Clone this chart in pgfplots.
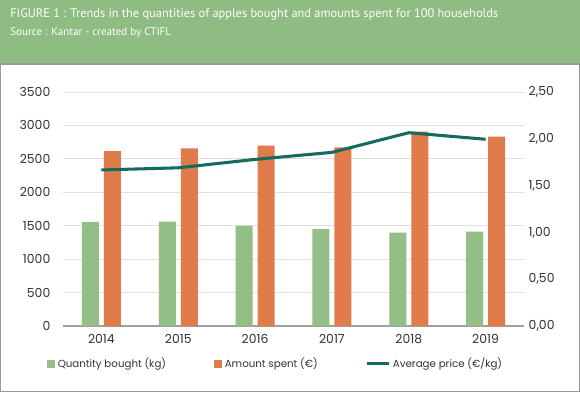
\documentclass[border=0pt]{standalone}
\usepackage{pgfplots}
\pgfplotsset{compat=1.18}
\usepackage{fontspec}
\setmainfont{Poppins}
\newfontfamily\titlefont{PT Sans}
\definecolor{hdrgreen}{HTML}{8FBC82}
\definecolor{bargreen}{HTML}{93BF86}
\definecolor{barorange}{HTML}{E07C4C}
\definecolor{lineteal}{HTML}{156B5E}
\definecolor{txtgray}{HTML}{333333}
\begin{document}
\begin{tikzpicture}
\useasboundingbox (0,0) rectangle (435pt,294pt);
\fill[hdrgreen] (0,246pt) rectangle (435pt,294pt);
\filldraw[fill=white, draw=gray!80, line width=1pt] (0.5pt,0.5pt) rectangle (434.5pt,246pt);
\node[anchor=west, inner sep=0pt, text=white, font=\titlefont\fontsize{9.3}{11}\selectfont] at (7.5pt,283.5pt) {FIGURE 1 : Trends in the quantities of apples bought and amounts spent for 100 households};
\node[anchor=west, inner sep=0pt, text=white, font=\titlefont\fontsize{8.3}{10}\selectfont] at (7.5pt,269.5pt) {Source : Kantar - created by CTIFL};
\begin{axis}[
  at={(47.25pt,49.5pt)}, anchor=south west,
  scale only axis, width=345.75pt, height=175.5pt,
  xmin=-0.5, xmax=5.5, ymin=0, ymax=3500,
  ytick={0,500,...,3500},
  xtick={0,1,2,3,4,5},
  xticklabels={2014,2015,2016,2017,2018,2019},
  axis x line*=bottom, axis y line*=left,
  y axis line style={draw=none},
  x axis line style={draw=gray!75, line width=1pt, -},
  major tick length=0pt,
  ymajorgrids, grid style={draw=gray!25, line width=0.6pt},
  ybar=3.75pt, bar width=12.75pt,
  /pgf/number format/assume math mode=true,
  /pgf/number format/1000 sep={},
  tick label style={font=\fontsize{9.3}{11}\selectfont, text=txtgray},
  yticklabel style={anchor=east, xshift=-6pt},
  xticklabel style={yshift=-2.5pt},
  clip=false,
]
\addplot[fill=bargreen, draw=none] coordinates {(0,1556) (1,1560) (2,1496) (3,1451) (4,1396) (5,1411)};
\addplot[fill=barorange, draw=none] coordinates {(0,2617) (1,2658) (2,2697) (3,2673) (4,2906) (5,2832)};
\end{axis}
\begin{axis}[
  at={(47.25pt,49.5pt)}, anchor=south west,
  scale only axis, width=345.75pt, height=175.5pt,
  xmin=-0.5, xmax=5.5, ymin=0, ymax=2.5,
  ytick={0,0.5,...,2.5},
  axis x line=none, axis y line*=right,
  y axis line style={draw=none},
  major tick length=0pt,
  /pgf/number format/assume math mode=true,
  /pgf/number format/.cd, fixed, fixed zerofill, precision=2, use comma,
  /pgfplots/.cd,
  tick label style={font=\fontsize{9.3}{11}\selectfont, text=txtgray},
  clip=false,
  legend style={at={(-0.035,-0.162)}, anchor=west, draw=none, fill=none,
    font=\fontsize{7.7}{9}\selectfont, text=txtgray, inner sep=0pt,
    legend columns=3,
    /tikz/every even column/.append style={column sep=34pt}},
  legend cell align=left,
]
\addlegendimage{area legend, fill=bargreen, draw=none, legend image code/.code={\fill[bargreen] (0pt,-3pt) rectangle (6pt,3pt);}}
\addlegendentry{Quantity bought (kg)}
\addlegendimage{area legend, fill=barorange, draw=none, legend image code/.code={\fill[barorange] (0pt,-3pt) rectangle (6pt,3pt);}}
\addlegendentry{Amount spent (€)}
\addplot[lineteal, line width=2.3pt, mark=none, legend image code/.code={\draw[lineteal, line width=2.3pt] (0pt,0pt) -- (16pt,0pt);}] coordinates {(0,1.667) (1,1.69) (2,1.78) (3,1.855) (4,2.065) (5,1.995)};
\addlegendentry{Average price (€/kg)}
\end{axis}
\end{tikzpicture}
\end{document}
